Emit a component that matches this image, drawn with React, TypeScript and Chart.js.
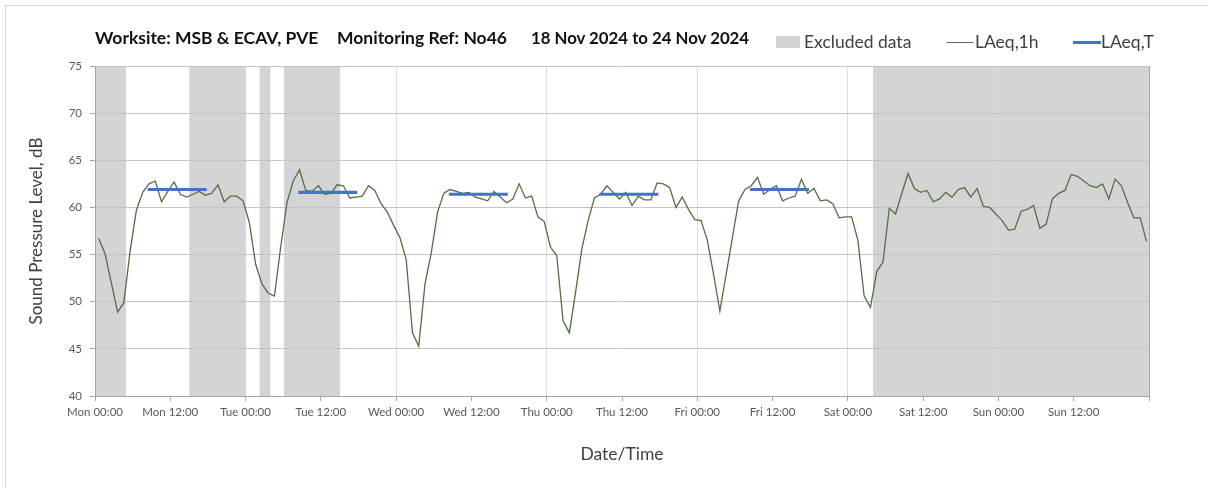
import React, { useEffect, useRef } from 'react';
import { Chart, registerables } from 'chart.js';

Chart.register(...registerables);

// ---- Data ----
const dayNames = ['Mon', 'Tue', 'Wed', 'Thu', 'Fri', 'Sat', 'Sun', 'Mon'];

// Hourly LAeq,1h values, Mon 18 Nov 2024 00:00 onwards (168 hours)
const laeq1h = [
  56.7, 55.1, 52.0, 48.9, 49.9, 55.4, 59.7, 61.6, 62.5, 62.8, 60.6, 61.7,
  62.7, 61.4, 61.1, 61.4, 61.7, 61.3, 61.5, 62.4, 60.6, 61.2, 61.2, 60.7,
  58.4, 54.0, 51.9, 50.9, 50.6, 55.8, 60.5, 62.8, 64.0, 61.8, 61.7, 62.3,
  61.4, 61.5, 62.4, 62.3, 61.0, 61.1, 61.2, 62.3, 61.8, 60.4, 59.5, 58.1,
  56.8, 54.5, 46.7, 45.3, 51.9, 55.2, 59.5, 61.5, 61.9, 61.7, 61.5, 61.6,
  61.1, 60.9, 60.7, 61.7, 61.1, 60.5, 60.9, 62.5, 61.0, 61.2, 59.0, 58.5,
  55.8, 54.9, 48.0, 46.7, 51.0, 55.6, 58.6, 61.0, 61.4, 62.3, 61.6, 60.9,
  61.6, 60.2, 61.2, 60.8, 60.8, 62.6, 62.5, 62.1, 60.0, 61.1, 59.8, 58.7,
  58.6, 56.5, 52.9, 49.0, 52.9, 56.8, 60.7, 61.9, 62.3, 63.2, 61.4, 61.9,
  62.3, 60.7, 61.0, 61.2, 63.0, 61.5, 62.0, 60.7, 60.8, 60.4, 58.9, 59.0,
  59.0, 56.5, 50.6, 49.4, 53.2, 54.2, 59.9, 59.3, 61.5, 63.6, 62.0, 61.6,
  61.8, 60.6, 60.9, 61.6, 61.1, 61.9, 62.1, 61.1, 62.0, 60.1, 60.0, 59.3,
  58.6, 57.6, 57.7, 59.6, 59.8, 60.2, 57.8, 58.2, 60.9, 61.5, 61.8, 63.5,
  63.3, 62.8, 62.3, 62.1, 62.5, 60.9, 63.0, 62.3, 60.5, 58.9, 58.9, 56.4,
];
// time of each hourly sample, in hours after Mon 00:00
const sampleTime = laeq1h.map((_, i) => i + 0.6);

// Excluded-data periods (hours after Mon 00:00)
const excludedStart = [0, 15, 26.2, 30.1, 124];
const excludedEnd = [4.95, 24.15, 28, 39.1, 168];

// LAeq,T daytime periods (hours after Mon 00:00) and levels
const periodStart = [8.4, 32.4, 56.4, 80.4, 104.4];
const periodEnd = [17.8, 41.8, 65.8, 89.8, 113.8];
const periodLevel = [61.9, 61.6, 61.4, 61.4, 61.9];

// Axis ranges / ticks
const X_MIN = 0;
const X_MAX = 168;
const X_STEP = 12;
const Y_MIN = 40;
const Y_MAX = 75;
const Y_STEP = 5;

const FONT = 'Lato, "Open Sans", "DejaVu Sans", sans-serif';

export default function App() {
  const canvasRef = useRef<HTMLCanvasElement>(null);

  useEffect(() => {
    const canvas = canvasRef.current;
    if (!canvas) return;

    const excludedSets = excludedStart.map((s, i) => ({
      type: 'line' as const,
      label: 'Excluded data',
      data: [
        { x: s, y: Y_MAX },
        { x: excludedEnd[i], y: Y_MAX },
      ],
      fill: 'start',
      backgroundColor: '#d4d4d4',
      borderColor: 'rgba(0,0,0,0)',
      borderWidth: 0,
      pointRadius: 0,
      order: 2,
    }));

    const periodData: { x: number; y: number | null }[] = [];
    periodStart.forEach((s, i) => {
      periodData.push({ x: s, y: periodLevel[i] });
      periodData.push({ x: periodEnd[i], y: periodLevel[i] });
      periodData.push({ x: periodEnd[i] + 0.1, y: null });
    });

    const chart = new Chart(canvas, {
      type: 'line',
      data: {
        datasets: [
          ...excludedSets,
          {
            type: 'line',
            label: 'LAeq,1h',
            data: laeq1h.map((v, i) => ({ x: sampleTime[i], y: v })),
            borderColor: '#50703f',
            borderWidth: 1.3,
            pointRadius: 0,
            tension: 0,
            fill: false,
            order: 1,
          },
          {
            type: 'line',
            label: 'LAeq,T',
            data: periodData,
            borderColor: '#4472c4',
            borderWidth: 3.2,
            pointRadius: 0,
            tension: 0,
            fill: false,
            spanGaps: false,
            order: 0,
          },
        ] as any,
      },
      options: {
        animation: false,
        responsive: false,
        devicePixelRatio: 1,
        events: [],
        layout: {
          padding: { left: 0, top: 66, right: 59, bottom: 12 },
        },
        plugins: {
          legend: { display: false },
          tooltip: { enabled: false },
          title: { display: false },
          filler: { drawTime: 'beforeDraw' },
        } as any,
        scales: {
          x: {
            type: 'linear',
            min: X_MIN,
            max: X_MAX,
            offset: false,
            afterFit: (scale: any) => {
              scale.height = 80;
            },
            ticks: {
              stepSize: X_STEP,
              autoSkip: false,
              maxRotation: 0,
              minRotation: 0,
              padding: 4,
              color: '#595959',
              font: { family: FONT, size: 11.5 },
              callback: (value: any) => {
                const v = Number(value);
                if (v >= X_MAX) return '';
                const day = dayNames[Math.floor(v / 24)];
                return `${day} ${v % 24 === 0 ? '00:00' : '12:00'}`;
              },
            },
            grid: {
              drawTicks: true,
              tickLength: 5,
              tickColor: '#a6a6a6',
              color: (ctx: any) => {
                const v = ctx.tick ? ctx.tick.value : 0;
                if (v === X_MAX) return '#a6a6a6';
                if (v > 0 && v % 24 === 0) return '#dcdcdc';
                return 'rgba(0,0,0,0)';
              },
            },
            border: { display: true, color: '#a6a6a6', width: 1 },
            title: {
              display: true,
              text: 'Date/Time',
              color: '#404040',
              font: { family: FONT, size: 17.5 },
              padding: { top: 0, bottom: 11 },
            },
          },
          y: {
            type: 'linear',
            min: Y_MIN,
            max: Y_MAX,
            afterFit: (scale: any) => {
              scale.width = 95;
            },
            ticks: {
              stepSize: Y_STEP,
              padding: 8,
              color: '#595959',
              font: { family: FONT, size: 11.5 },
            },
            grid: {
              color: '#c4c4c4',
              drawTicks: true,
              tickLength: 5,
              tickColor: '#a6a6a6',
            },
            border: { display: true, color: '#a6a6a6', width: 1 },
            title: {
              display: true,
              text: 'Sound Pressure Level, dB',
              color: '#404040',
              font: { family: FONT, size: 17 },
              padding: { top: 26, bottom: 0 },
            },
          },
        },
      } as any,
    });

    return () => {
      chart.destroy();
    };
  }, []);

  const titleStyle: React.CSSProperties = {
    position: 'absolute',
    top: 27,
    fontFamily: FONT,
    fontWeight: 700,
    fontSize: 17.5,
    lineHeight: '22px',
    color: '#111',
    whiteSpace: 'pre',
  };
  const legendText: React.CSSProperties = {
    position: 'absolute',
    top: 30,
    fontFamily: FONT,
    fontSize: 17.5,
    lineHeight: '24px',
    color: '#404040',
    whiteSpace: 'pre',
  };

  return (
    <div
      style={{
        position: 'fixed',
        left: 0,
        top: 0,
        width: 1208,
        height: 488,
        background: '#fff',
        overflow: 'hidden',
      }}
    >
      <div
        style={{
          position: 'absolute',
          left: 5,
          top: 5,
          width: 1300,
          height: 600,
          border: '1px solid #d9d9d9',
        }}
      />
      <canvas
        ref={canvasRef}
        width={1208}
        height={488}
        style={{ position: 'absolute', left: 0, top: 0, width: 1208, height: 488 }}
      />
      <div style={{ ...titleStyle, left: 95 }}>Worksite: MSB &amp; ECAV, PVE</div>
      <div style={{ ...titleStyle, left: 337 }}>Monitoring Ref: No46</div>
      <div style={{ ...titleStyle, left: 531, fontSize: 16.8 }}>18 Nov 2024 to 24 Nov 2024</div>

      <div
        style={{
          position: 'absolute',
          left: 776,
          top: 36,
          width: 24,
          height: 12,
          background: '#d4d4d4',
        }}
      />
      <div style={{ ...legendText, left: 804 }}>Excluded data</div>
      <div
        style={{
          position: 'absolute',
          left: 947,
          top: 42,
          width: 26,
          height: 1.3,
          background: '#50703f',
        }}
      />
      <div style={{ ...legendText, left: 975 }}>LAeq,1h</div>
      <div
        style={{
          position: 'absolute',
          left: 1073,
          top: 40.5,
          width: 28,
          height: 3.2,
          background: '#4472c4',
        }}
      />
      <div style={{ ...legendText, left: 1101 }}>LAeq,T</div>
    </div>
  );
}
